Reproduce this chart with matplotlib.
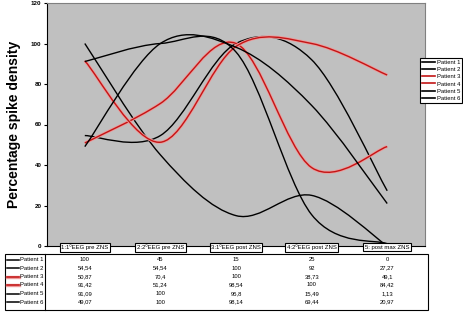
import matplotlib
matplotlib.use("Agg")
import matplotlib.pyplot as plt
import matplotlib.transforms as mtransforms
from matplotlib.path import Path
from matplotlib.patches import PathPatch, Rectangle
from matplotlib.lines import Line2D

plt.rcParams["font.family"] = ["Liberation Sans", "DejaVu Sans"]

# ---- data ----
kategoriler = ["1:1ºEEG pre ZNS", "2:2ºEEG pre ZNS", "3:1ºEEG post ZNS",
               "4:2ºEEG post ZNS", "5: post max ZNS"]
hastalar = ["Patient 1", "Patient 2", "Patient 3", "Patient 4", "Patient 5", "Patient 6"]
p1 = [100, 45, 15, 25, 0]
p2 = [54.54, 54.54, 100, 92, 27.27]
p3 = [50.87, 70.4, 100, 38.73, 49.1]
p4 = [91.42, 51.24, 98.54, 100, 84.42]
p5 = [91.09, 100, 95.8, 15.49, 1.13]
p6 = [49.07, 100, 98.14, 69.44, 20.97]
seriler = [p1, p2, p3, p4, p5, p6]
renkler = ["black", "black", "#C21515", "#C21515", "black", "black"]

W, H = 464, 312


def excel_yumusak(xs, ys):
    """Excel tarzi yumusatilmis cizgi (Bezier)."""
    n = len(xs)
    pts = list(zip(xs, ys))
    verts = [pts[0]]
    codes = [Path.MOVETO]
    for i in range(n - 1):
        p0 = pts[i - 1] if i > 0 else pts[i]
        pa, pb = pts[i], pts[i + 1]
        p3_ = pts[i + 2] if i + 2 < n else pts[i + 1]
        c1 = (pa[0] + (pb[0] - p0[0]) / 6, pa[1] + (pb[1] - p0[1]) / 6)
        c2 = (pb[0] - (p3_[0] - pa[0]) / 6, pb[1] - (p3_[1] - pa[1]) / 6)
        verts += [c1, c2, pb]
        codes += [Path.CURVE4] * 3
    return Path(verts, codes)


fig = plt.figure(figsize=(W / 100, H / 100), dpi=100)
ax = fig.add_axes([47 / W, (H - 246) / H, (425 - 47) / W, (246 - 3) / H])
ax.set_facecolor("#C0C0C0")

xs = list(range(len(kategoriler)))
for ys, renk in zip(seriler, renkler):
    yol = excel_yumusak(xs, ys)
    if renk != "black":
        ax.add_patch(PathPatch(yol, fill=False, edgecolor="#EE9A9A", lw=2.2))
    ax.add_patch(PathPatch(yol, fill=False, edgecolor=renk, lw=1.0))

ax.set_xlim(-0.5, len(kategoriler) - 0.5)
ax.set_ylim(0, 120)
ax.set_yticks(range(0, 121, 20))
ax.set_yticklabels([str(v) for v in range(0, 121, 20)], fontsize=4.5, fontweight="bold")
ax.tick_params(axis="y", length=2, width=0.8, pad=2)
ax.set_xticks([])
for s in ["top", "right"]:
    ax.spines[s].set_color("#808080")
ax.spines["left"].set_color("black")
ax.spines["bottom"].set_color("black")

ax.set_ylabel("Percentage spike density", fontsize=10, fontweight="bold", labelpad=7)

# category label boxes on the axis
xlabel_tr = mtransforms.blended_transform_factory(ax.transData, ax.transAxes)
for i, k in enumerate(kategoriler):
    ax.text(i, -0.006, k, transform=xlabel_tr, ha="center", va="center", fontsize=4.3,
            bbox=dict(boxstyle="square,pad=0.25", fc="white", ec="black", lw=0.8),
            clip_on=False)

# legend
tutamaclar = [Line2D([], [], color=r, lw=1.2) for r in renkler]
leg = fig.legend(tutamaclar, hastalar, loc="upper left",
                 bbox_to_anchor=(420 / W, 1 - 58 / H), fontsize=4.2,
                 frameon=True, fancybox=False, edgecolor="black", framealpha=1,
                 handlelength=2.2, handletextpad=0.3, labelspacing=0.35,
                 borderpad=0.35, borderaxespad=0)
leg.get_frame().set_linewidth(0.8)

# data table under the chart
ax_t = fig.add_axes([0, 0, 1, 1], facecolor="none")
ax_t.set_xlim(0, W)
ax_t.set_ylim(H, 0)
ax_t.axis("off")
ax_t.add_patch(Rectangle((5, 254), 428 - 5, 310 - 254, fill=False, ec="black", lw=0.8))
ax_t.plot([45, 45], [254, 310], color="black", lw=0.8)

tablo_tr = mtransforms.blended_transform_factory(ax.transData, ax_t.transData)
satir_y = [259.5, 268, 276.5, 285, 293.5, 302]
for j, (ad, ys, renk) in enumerate(zip(hastalar, seriler, renkler)):
    y = satir_y[j]
    if renk != "black":
        ax_t.plot([7, 19], [y, y], color="#EE9A9A", lw=2.4)
    ax_t.plot([7, 19], [y, y], color=renk, lw=1.1)
    ax_t.text(20, y, ad, fontsize=4.2, va="center", ha="left")
    for i, v in enumerate(ys):
        metin = f"{v:g}".replace(".", ",")
        ax_t.text(i, y, metin, transform=tablo_tr, fontsize=4.2, ha="center", va="center")

fig.savefig("out.png", dpi=100)
